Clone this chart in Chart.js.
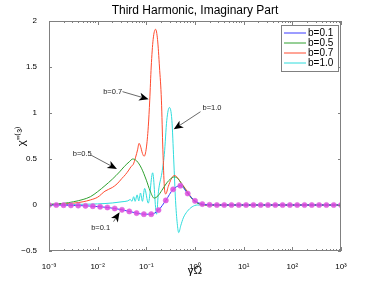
<!DOCTYPE html>
<html>
<head>
<meta charset="utf-8">
<script src="https://cdn.jsdelivr.net/npm/chart.js@4.4.1/dist/chart.umd.min.js"></script>
<style>
  html, body { margin: 0; padding: 0; background: #fff; }
  #wrap { width: 375px; height: 283px; }
</style>
</head>
<body>
<div id="wrap"><canvas id="harmonicChart" width="375" height="283"></canvas></div>
<script>
// positions are log10(gamma*Omega), values are chi''(3)
const b01LogX = [-3, -2.85, -2.7, -2.55, -2.4, -2.25, -2.1, -1.95, -1.8, -1.65, -1.5, -1.35, -1.2, -1.05, -0.9, -0.75, -0.6, -0.45, -0.3, -0.15,
  0, 0.15, 0.3, 0.45, 0.6, 0.75, 0.9, 1.05, 1.2, 1.35, 1.5, 1.65, 1.8, 1.95, 2.1, 2.25, 2.4, 2.55, 2.7, 2.85, 3];
const b01Y = [0, 0, -0.002, -0.004, -0.006, -0.009, -0.013, -0.019, -0.027, -0.038, -0.052, -0.07, -0.088, -0.1, -0.1, -0.055, 0.05, 0.17, 0.21, 0.125,
  0.045, 0.01, 0.002, 0, 0, 0, 0, 0, 0, 0, 0, 0, 0, 0, 0, 0, 0, 0, 0, 0, 0];

const b05LogX = [-3, -2.7, -2.5, -2.3, -2.15, -2.0, -1.85, -1.7, -1.55, -1.45, -1.35, -1.28, -1.2, -1.1, -1.0, -0.92, -0.84, -0.76, -0.68, -0.58,
  -0.5, -0.42, -0.34, -0.25, -0.15, -0.05, 0.05, 0.15, 0.3, 3];
const b05Y = [0.008, 0.018, 0.035, 0.06, 0.09, 0.145, 0.21, 0.28, 0.36, 0.42, 0.47, 0.5, 0.48, 0.4, 0.27, 0.15, 0.075, 0.1, 0.16, 0.24,
  0.285, 0.305, 0.28, 0.21, 0.13, 0.06, 0.02, 0.005, 0, 0];

const b07LogX = [-3, -2.7, -2.5, -2.3, -2.15, -2.0, -1.85, -1.7, -1.6, -1.5, -1.43, -1.36, -1.31, -1.27, -1.22, -1.18, -1.15, -1.12, -1.08, -1.045,
  -1.0, -0.96, -0.93, -0.9, -0.86, -0.81, -0.77, -0.73, -0.69, -0.66, -0.63, -0.6, -0.55, -0.49, -0.43, -0.38, -0.3, -0.2, -0.1, 0, 0.1, 0.2, 3];
const b07Y = [0.004, 0.01, 0.02, 0.035, 0.055, 0.085, 0.15, 0.19, 0.23, 0.29, 0.33, 0.38, 0.42, 0.44, 0.52, 0.6, 0.67, 0.64, 0.56, 0.53,
  0.62, 0.85, 1.14, 1.5, 1.8, 1.91, 1.8, 1.5, 1.14, 0.6, 0.2, 0.12, 0.2, 0.28, 0.32, 0.31, 0.25, 0.18, 0.1, 0.04, 0.01, 0, 0];

const b10LogX = [-3, -2.5, -2.0, -1.7, -1.5, -1.38, -1.33, -1.295, -1.26, -1.23, -1.19, -1.155, -1.12, -1.08, -1.035, -0.96, -0.87, -0.79, -0.75, -0.68,
  -0.63, -0.58, -0.526, -0.475, -0.437, -0.4, -0.365, -0.335, -0.29, -0.24, -0.16, -0.06, 0.05, 3];
const b10Y = [0.003, 0.006, 0.012, 0.022, 0.035, 0.045, 0.06, 0.04, 0.09, 0.04, 0.11, 0.045, 0.13, 0.04, 0.18, 0.02, 0.35, -0.1, 0.15, 0.35,
  0.55, 0.92, 1.06, 0.92, 0.49, 0.05, -0.2, -0.3, -0.22, -0.14, -0.07, -0.02, 0, 0];

const seriesLabels = ['b=0.1', 'b=0.5', 'b=0.7', 'b=1.0'];
const seriesColors = ['#3a3aff', '#2ea02e', '#ff4a2e', '#2fdcdc'];

const xTickDecades = [-3, -2, -1, 0, 1, 2, 3];
const yTickValues = [-0.5, 0, 0.5, 1, 1.5, 2];

// arrows and their labels, in data units (log10 x)
const noteText = ['b=0.7', 'b=1.0', 'b=0.5', 'b=0.1'];
const noteLogX = [-1.887, 0.155, -2.511, -2.134];
const noteY = [1.232, 1.051, 0.554, -0.253];
const arrowFromLogX = [-1.49, 0.113, -2.14, -1.674];
const arrowFromY = [1.232, 1.014, 0.543, -0.181];
const arrowToLogX = [-0.953, -0.437, -1.604, -1.55];
const arrowToY = [1.149, 0.823, 0.391, -0.079];

const chartTitle = 'Third Harmonic, Imaginary Part';

const FONT = "'Liberation Sans', Arial, sans-serif";
const SUP = {'-': '\u207b', '0': '\u2070', '1': '\u00b9', '2': '\u00b2', '3': '\u00b3'};

function toPoints(logX, ys) {
    return logX.map((l, i) => ({ x: Math.pow(10, l), y: ys[i] }));
}

const framePlugin = {
    id: 'frame',
    afterDraw(chart) {
        const { ctx, chartArea: a, scales: { x, y } } = chart;
        ctx.save();

        // title centred over the axes box
        ctx.fillStyle = '#000';
        ctx.font = '12px ' + FONT;
        ctx.textAlign = 'center';
        ctx.textBaseline = 'middle';
        ctx.fillText(chartTitle, (a.left + a.right) / 2, 10.5);

        ctx.strokeStyle = '#808080';
        ctx.lineWidth = 1;
        ctx.strokeRect(a.left + 0.5, a.top + 0.5, a.right - a.left - 1, a.bottom - a.top - 1);
        ctx.beginPath();
        x.ticks.forEach(t => {
            const px = Math.round(x.getPixelForValue(t.value)) + 0.5;
            const major = Math.abs(Math.log10(t.value) - Math.round(Math.log10(t.value))) < 1e-6;
            const len = major ? 4 : 2;
            ctx.moveTo(px, a.bottom);
            ctx.lineTo(px, a.bottom - len);
            ctx.moveTo(px, a.top);
            ctx.lineTo(px, a.top + len);
        });
        y.ticks.forEach(t => {
            const py = Math.round(y.getPixelForValue(t.value)) + 0.5;
            ctx.moveTo(a.left, py);
            ctx.lineTo(a.left + 3, py);
            ctx.moveTo(a.right, py);
            ctx.lineTo(a.right - 3, py);
        });
        ctx.stroke();

        // annotations
        ctx.font = '7.5px ' + FONT;
        ctx.textAlign = 'left';
        noteText.forEach((txt, i) => {
            ctx.fillStyle = '#222';
            ctx.fillText(txt, x.getPixelForValue(Math.pow(10, noteLogX[i])), y.getPixelForValue(noteY[i]));
            const x0 = x.getPixelForValue(Math.pow(10, arrowFromLogX[i]));
            const y0 = y.getPixelForValue(arrowFromY[i]);
            const x1 = x.getPixelForValue(Math.pow(10, arrowToLogX[i]));
            const y1 = y.getPixelForValue(arrowToY[i]);
            const ang = Math.atan2(y1 - y0, x1 - x0);
            const c = Math.cos(ang), s = Math.sin(ang);
            ctx.strokeStyle = '#444';
            ctx.lineWidth = 0.8;
            ctx.beginPath();
            ctx.moveTo(x0, y0);
            ctx.lineTo(x1 - 7 * c, y1 - 7 * s);
            ctx.stroke();
            ctx.fillStyle = '#000';
            ctx.beginPath();
            ctx.moveTo(x1, y1);
            ctx.lineTo(x1 - 9.5 * c + 4 * s, y1 - 9.5 * s - 4 * c);
            ctx.lineTo(x1 - 7 * c, y1 - 7 * s);
            ctx.lineTo(x1 - 9.5 * c - 4 * s, y1 - 9.5 * s + 4 * c);
            ctx.closePath();
            ctx.fill();
        });

        // legend box in the upper right corner
        const lx = a.right - 60, ly = a.top + 4, lw = 57, lh = 46;
        ctx.fillStyle = '#fff';
        ctx.fillRect(lx, ly, lw, lh);
        ctx.strokeStyle = '#808080';
        ctx.lineWidth = 1;
        ctx.strokeRect(lx + 0.5, ly + 0.5, lw, lh);
        ctx.font = '10px ' + FONT;
        chart.data.datasets.forEach((ds, i) => {
            const ey = ly + 8 + i * 10;
            ctx.strokeStyle = ds.borderColor;
            ctx.lineWidth = 1;
            ctx.beginPath();
            ctx.moveTo(lx + 3, ey);
            ctx.lineTo(lx + 25, ey);
            ctx.stroke();
            ctx.fillStyle = '#000';
            ctx.fillText(ds.label, lx + 27, ey + 0.5);
        });
        ctx.restore();
    }
};

const ctx = document.getElementById('harmonicChart');
const dataSets = [
    [b01LogX, b01Y], [b05LogX, b05Y], [b07LogX, b07Y], [b10LogX, b10Y]
].map(([lx, ys], i) => ({
    label: seriesLabels[i],
    data: toPoints(lx, ys),
    borderColor: seriesColors[i],
    borderWidth: 1,
    cubicInterpolationMode: 'monotone',
    pointRadius: i === 0 ? 2.6 : 0,
    pointBackgroundColor: 'rgba(222, 70, 222, 0.85)',
    pointBorderColor: 'rgba(222, 110, 222, 0.6)',
    pointBorderWidth: 1
}));

new Chart(ctx, {
    type: 'line',
    data: { datasets: dataSets },
    options: {
        responsive: false,
        animation: false,
        parsing: false,
        layout: { padding: { left: 0, right: 34, top: 21, bottom: 0 } },
        plugins: {
            legend: { display: false },
            tooltip: { enabled: false },
            title: { display: false }
        },
        scales: {
            x: {
                type: 'logarithmic',
                min: 1e-3,
                max: 1e3,
                grid: { display: false },
                border: { display: false },
                afterBuildTicks(scale) {
                    const ticks = [];
                    xTickDecades.forEach(d => {
                        const base = Math.pow(10, d);
                        const last = d === 3 ? 1 : 9;
                        for (let k = 1; k <= last; k++) ticks.push({ value: k * base });
                    });
                    scale.ticks = ticks;
                },
                afterFit(scale) { scale.height = 32; },
                ticks: {
                    autoSkip: false,
                    maxRotation: 0,
                    padding: 3,
                    color: '#000',
                    font: { family: FONT, size: 8 },
                    callback(value) {
                        const e = Math.log10(value);
                        if (Math.abs(e - Math.round(e)) > 1e-6) return '';
                        return '10' + String(Math.round(e)).split('').map(c => SUP[c]).join('');
                    }
                },
                title: {
                    display: true,
                    text: 'γΩ',
                    color: '#000',
                    font: { family: FONT, size: 11.5 },
                    padding: { top: 0, bottom: 5 }
                }
            },
            y: {
                min: -0.5,
                max: 2,
                grid: { display: false },
                border: { display: false },
                afterBuildTicks(scale) {
                    scale.ticks = yTickValues.map(v => ({ value: v }));
                },
                afterFit(scale) { scale.width = 49; },
                ticks: {
                    padding: 4,
                    color: '#000',
                    font: { family: FONT, size: 8 },
                    callback(value) { return String(value).replace('-', '\u2212'); }
                },
                title: {
                    display: true,
                    text: "χ''⁽³⁾",
                    color: '#000',
                    font: { family: FONT, size: 11.5 },
                    padding: { top: 15, bottom: 0 }
                }
            }
        }
    },
    plugins: [framePlugin]
});
</script>
</body>
</html>
